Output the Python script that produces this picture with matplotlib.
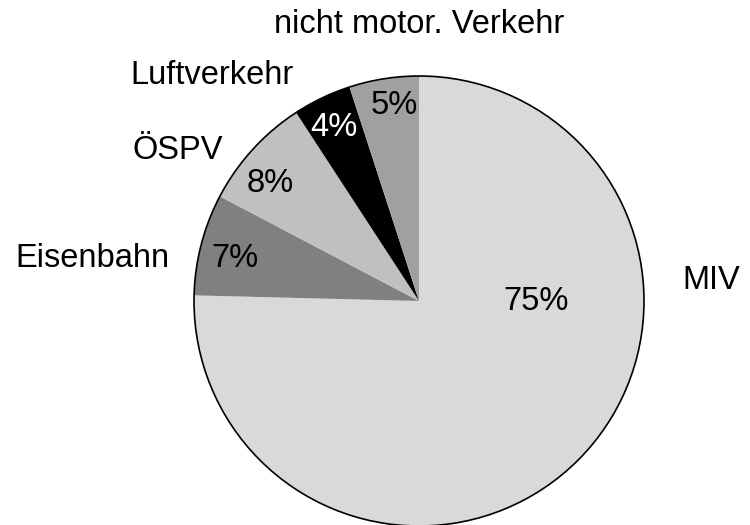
import matplotlib
matplotlib.use("Agg")
import matplotlib.pyplot as plt
from matplotlib.patches import Circle

plt.rcParams["font.family"] = ["Liberation Sans", "DejaVu Sans"]

# ==========================================
# Data (share of traffic mode, %)
# ==========================================
categories = ["MIV", "Eisenbahn", "ÖSPV", "Luftverkehr", "nicht motor. Verkehr"]
shares = [75.4, 7.3, 8.1, 4.2, 5.0]
colors = ["#d9d9d9", "#808080", "#c0c0c0", "#000000", "#a0a0a0"]
pct_colors = ["black", "black", "black", "white", "black"]

# label placement (data units, radius = 1)
label_pos = [(1.30, 0.09), (-1.45, 0.19), (-1.07, 0.67), (-0.92, 1.00), (0.00, 1.23)]
pct_pos = [(0.52, 0.00), (-0.82, 0.19), (-0.66, 0.52), (-0.38, 0.77), (-0.11, 0.87)]

W, H = 750, 525
cx, cy, R = 419, 301, 225

fig = plt.figure(figsize=(W / 100, H / 100), dpi=100)
ax = fig.add_axes([0, 0, 1, 1])

wedges, _ = ax.pie(shares, colors=colors, startangle=90, counterclock=False,
                   radius=1, center=(0, 0), frame=True,
                   wedgeprops=dict(linewidth=0))
ax.add_patch(Circle((0, 0), 1, fill=False, edgecolor="black", linewidth=1.2))

for name, (x, y) in zip(categories, label_pos):
    ax.text(x, y, name, ha="center", va="center", fontsize=23.5)

for v, c, (x, y) in zip(shares, pct_colors, pct_pos):
    ax.text(x, y, f"{v:.0f}%", ha="center", va="center", fontsize=23.5, color=c)

ax.set_xlim(-cx / R, (W - cx) / R)
ax.set_ylim(-(H - cy) / R, cy / R)
ax.set_aspect("auto")
ax.axis("off")

plt.savefig("out.png", dpi=100)
plt.close()
